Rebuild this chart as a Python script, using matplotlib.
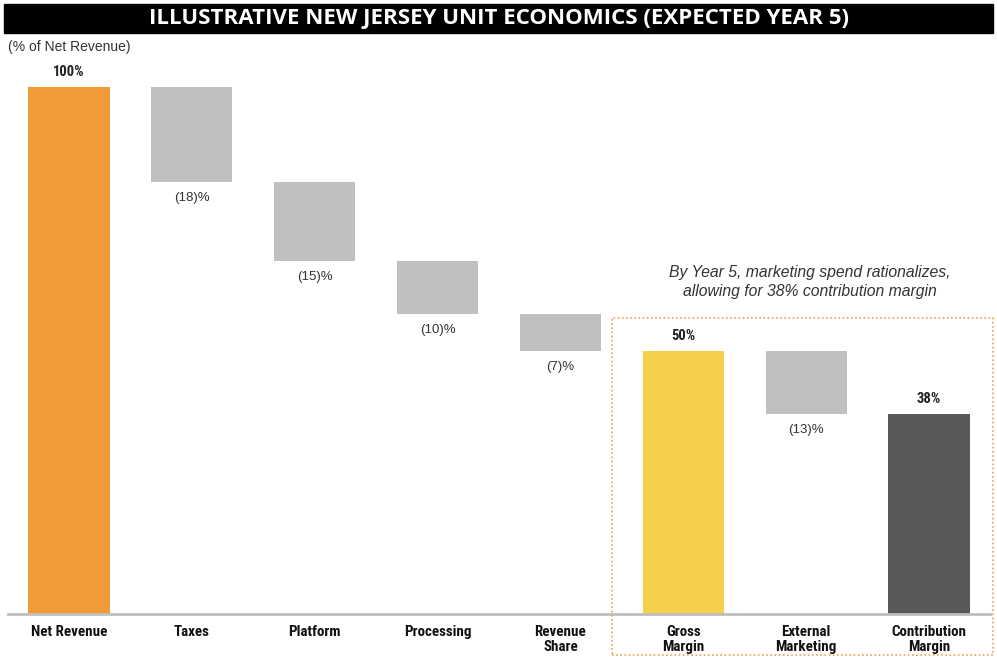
import matplotlib.pyplot as plt
from matplotlib.patches import Rectangle

categories = ['Net Revenue', 'Taxes', 'Platform', 'Processing', 'Revenue\nShare',
              'Gross\nMargin', 'External\nMarketing', 'Contribution\nMargin']
net_revenue = 100
deductions = [18, 15, 10, 7]
gross_margin = 50
marketing = 13
contribution_margin = 38

title_font = ['Open Sans', 'DejaVu Sans']
narrow = ['Liberation Sans Narrow', 'Roboto Condensed', 'Archivo Narrow', 'DejaVu Sans']
plain = ['Liberation Sans', 'DejaVu Sans']

# waterfall bottoms / heights
bottoms = [0]
heights = [net_revenue]
level = net_revenue
for d in deductions:
    level -= d
    bottoms.append(level)
    heights.append(d)
bottoms += [0, contribution_margin, 0]
heights += [gross_margin, gross_margin - contribution_margin, contribution_margin]
labels = ['%d%%' % net_revenue] + ['(%d)%%' % d for d in deductions] + \
         ['%d%%' % gross_margin, '(%d)%%' % marketing, '%d%%' % contribution_margin]

colors = ['#F09B37', '#BFBFBF', '#BFBFBF', '#BFBFBF', '#BFBFBF',
          '#F6D04A', '#BFBFBF', '#595959']

W, H = 997, 657
fig = plt.figure(figsize=(W / 100, H / 100), dpi=100)
ax = fig.add_axes([8 / W, 43 / H, 982 / W, 527 * 1.05 / H])

x = list(range(len(categories)))
ax.bar(x, heights, bottom=bottoms, width=0.66, color=colors, zorder=2)
ax.set_xlim(-0.4965, 7.4965)
ax.set_ylim(0, 105)

# value labels
for i in x:
    if i in (0, 5, 7):
        ax.text(i, bottoms[i] + heights[i] + 1.5, labels[i],
                ha='center', va='bottom', fontsize=10.5, fontweight='bold',
                family=narrow, color='#222222')
    else:
        ax.text(i, bottoms[i] - 1.9, labels[i],
                ha='center', va='top', fontsize=9.5, family=plain,
                color='#333333')

for s in ['top', 'right', 'left']:
    ax.spines[s].set_visible(False)
ax.spines['bottom'].set_color('#BFBFBF')
ax.spines['bottom'].set_linewidth(2)
ax.set_yticks([])
ax.set_xticks(x)
ax.set_xticklabels(categories, fontsize=10.8, fontweight='bold', family=narrow,
                   color='#111111', linespacing=1.1)
ax.tick_params(axis='x', length=0, pad=8)

# title bar
fig.patches.append(Rectangle((4 / W, (H - 33) / H), 989 / W, 29 / H,
                             transform=fig.transFigure, color='black'))
fig.text(0.5, (H - 18.5) / H, 'ILLUSTRATIVE NEW JERSEY UNIT ECONOMICS (EXPECTED YEAR 5)',
         ha='center', va='center', color='white', fontsize=16,
         fontweight='bold', family=title_font)
fig.text(8 / W, (H - 47) / H, '(% of Net Revenue)', ha='left', va='center',
         fontsize=10, family=plain, color='#333333')

# highlight box around the year-5 margin bars
fig.patches.append(Rectangle((612 / W, 2 / H), 381 / W, 337 / H,
                             transform=fig.transFigure, fill=False,
                             edgecolor='#F0A050', linestyle=(0, (1, 1.5)),
                             linewidth=1.2))
fig.text(810 / W, (H - 282) / H,
         'By Year 5, marketing spend rationalizes,\nallowing for 38% contribution margin',
         ha='center', va='center', fontsize=11.3, style='italic', family=plain,
         color='#333333', linespacing=1.35)

fig.savefig('out.png', dpi=100)
